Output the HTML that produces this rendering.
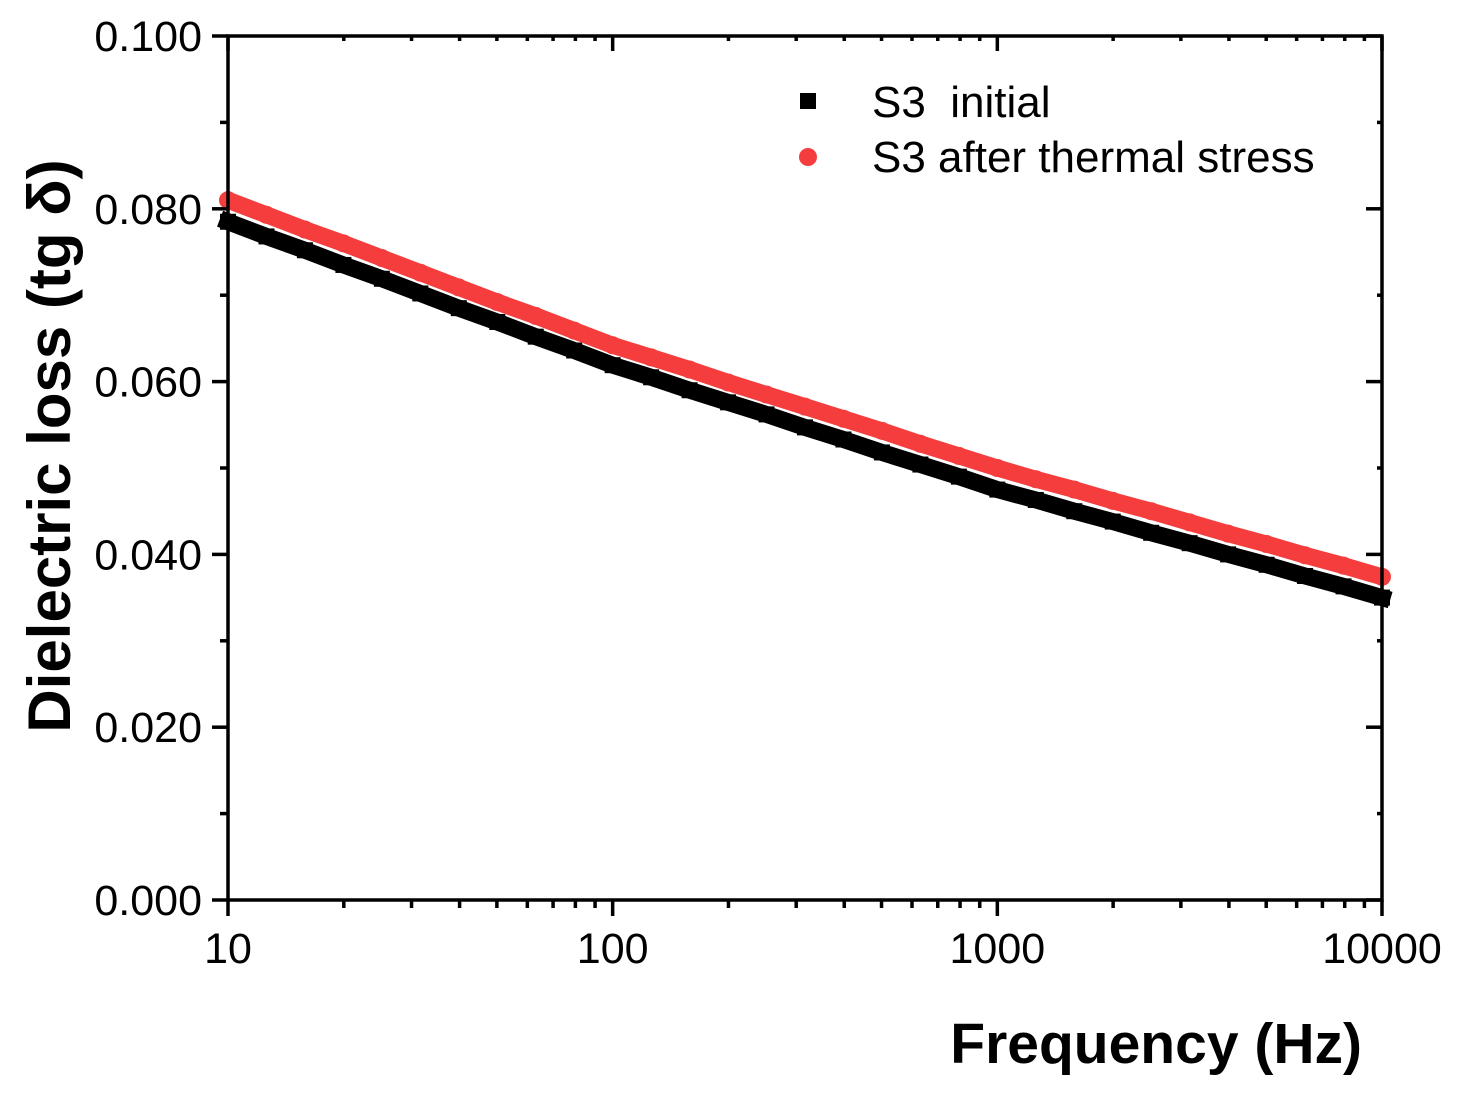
<!DOCTYPE html>
<html><head><meta charset="utf-8"><style>
body{margin:0;background:#fff}
svg{display:block;font-family:"Liberation Sans",Arial,sans-serif}
</style></head><body>
<svg id="chart" width="1460" height="1097">
<g id="plot"></g>
</svg>
<script>
const decadesLog = [1,1.1,1.2,1.3,1.4,1.5,1.6,1.7,1.8,1.9,2,2.1,2.2,2.3,2.4,2.5,2.6,2.7,2.8,2.9,3,3.1,3.2,3.3,3.4,3.5,3.6,3.7,3.8,3.9,4];
const initialVals = [0.0785,0.0768,0.0752,0.0735,0.0719,0.0702,0.0685,0.0669,0.0652,0.0636,0.0619,0.0605,0.0590,0.0576,0.0562,0.0547,0.0533,0.0518,0.0504,0.0490,0.0475,0.0463,0.0450,0.0438,0.0425,0.0413,0.0400,0.0388,0.0375,0.0363,0.0350];
const thermalVals = [0.0810,0.0793,0.0776,0.0760,0.0743,0.0726,0.0709,0.0692,0.0676,0.0659,0.0642,0.0628,0.0614,0.0599,0.0585,0.0571,0.0557,0.0543,0.0528,0.0514,0.0500,0.0487,0.0475,0.0462,0.0450,0.0437,0.0424,0.0412,0.0399,0.0387,0.0374];
const yTicks = [0,0.02,0.04,0.06,0.08,0.1];
const yTickLabels = ["0.000","0.020","0.040","0.060","0.080","0.100"];
const xTicks = [10,100,1000,10000];
const xTickLabels = ["10","100","1000","10000"];

const L=228,R=1382,T=36,B=900;
const xs=v=>L+(Math.log10(v)-1)/3*(R-L);
const xl=l=>L+(l-1)/3*(R-L);
const ys=v=>B-v/0.1*(B-T);
const NS="http://www.w3.org/2000/svg";
const svg=document.getElementById('chart');
function mk(t,a,p){const e=document.createElementNS(NS,t);for(const k in a)e.setAttribute(k,a[k]);(p||svg).appendChild(e);return e;}
function line(x1,y1,x2,y2,w){return mk('line',{x1,y1,x2,y2,stroke:'#000','stroke-width':w||3.5});}

function series(vals,color,w,isSq,name){
  const g=mk('g',{});
  
  
  const pts=decadesLog.map((l,i)=>xl(l)+','+ys(vals[i])).join(' ');
  mk('polyline',{points:pts,fill:'none',stroke:color,'stroke-width':w,'stroke-linejoin':'round','stroke-linecap':isSq?'square':'round'},g);
  decadesLog.forEach((l,i)=>{
    let m;
    if(isSq) m=mk('rect',{x:xl(l)-8,y:ys(vals[i])-8,width:16,height:16,fill:color},g);
    else m=mk('circle',{cx:xl(l),cy:ys(vals[i]),r:9,fill:color},g);
    
    
  });
}
series(initialVals,'#000',17,true,'series-initial');
series(thermalVals,'#f53d3d',17,false,'series-thermal-stress');

mk('rect',{x:L,y:T,width:R-L,height:B-T,fill:'none',stroke:'#000','stroke-width':3.5});
for(let v=0;v<=0.1001;v+=0.01){
  const y=ys(v),maj=Math.round(v*100)%2===0;
  line(L-(maj?16:8),y,L,y);line(R-(maj?16:5),y,R,y);
}
yTicks.forEach((v,i)=>{
  const t=mk('text',{x:L-26,y:ys(v)+15,'text-anchor':'end','font-size':43});
  t.textContent=yTickLabels[i];
  
  
});
for(let d=1;d<=4;d++){
  for(let m=1;m<=9;m++){
    if(d===4&&m>1)break;
    const x=xl(d+Math.log10(m)),maj=m===1;
    line(x,B,x,B+(maj?16:8));line(x,T,x,T+(maj?15:5));
  }
}
xTicks.forEach((v,i)=>{
  const t=mk('text',{x:xs(v),y:963,'text-anchor':'middle','font-size':43});
  t.textContent=xTickLabels[i];
  
  
});
let t=mk('text',{x:1362,y:1063,'text-anchor':'end','font-size':57,'font-weight':'bold'});
t.textContent='Frequency (Hz)';


t=mk('text',{x:0,y:0,'text-anchor':'middle','font-size':60,'font-weight':'bold',transform:'translate(70,446) rotate(-90)'});
t.textContent='Dielectric loss (tg δ)';


const lg=mk('g',{});


mk('rect',{x:800,y:93,width:16,height:16,fill:'#000'},lg);
mk('circle',{cx:808,cy:157,r:9,fill:'#f53d3d'},lg);
t=mk('text',{x:872,y:117,'font-size':44},lg);t.textContent='S3\u00a0\u00a0initial';


t=mk('text',{x:872,y:172,'font-size':44},lg);t.textContent='S3 after thermal stress';


</script>
</body></html>
